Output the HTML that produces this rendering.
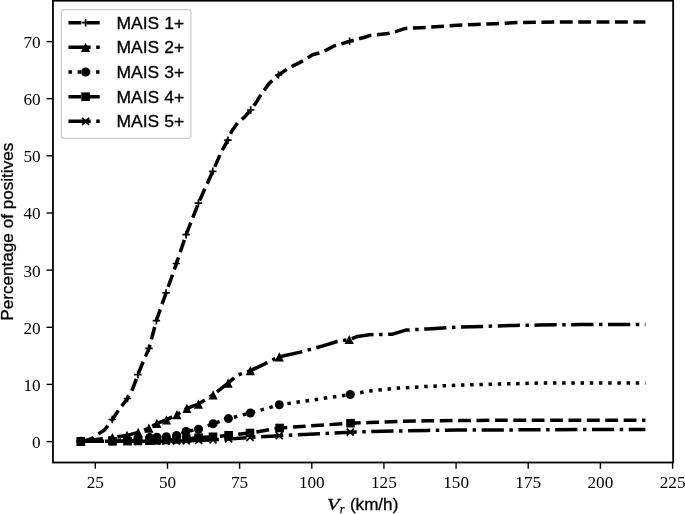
<!DOCTYPE html>
<html><head><meta charset="utf-8"><title>Percentage of positives vs Vr</title>
<style>
html,body{margin:0;padding:0;background:#fff;}
body{width:685px;height:514px;overflow:hidden;}
svg{display:block;}
.tk{font-family:"Liberation Serif","DejaVu Serif",serif;font-size:17.2px;fill:#000;}
.sf{font-family:"Liberation Sans","DejaVu Sans",sans-serif;font-size:17.1px;fill:#000;stroke:#000;stroke-width:0.3px;}
.it{font-family:"Liberation Serif","DejaVu Serif",serif;font-style:italic;}
</style></head><body>
<svg width="685" height="514" viewBox="0 0 685 514">
<rect width="685" height="514" fill="#fff"/>

<path d="M80.8 441.3 L88.0 440.0 L93.4 438.0 L97.4 434.9 L105.0 429.5 L112.3 419.5 L119.8 408.5 L127.5 398.5 L132.5 389.3 L137.9 374.6 L143.5 361.0 L149.0 348.4 L152.7 334.5 L156.4 320.7 L161.2 306.5 L166.1 292.9 L176.4 263.5 L186.1 234.7 L198.4 203.2 L212.8 171.3 L221.1 152.3 L227.9 140.2 L231.8 130.9 L237.7 122.7 L244.5 117.2 L250.7 110.0 L256.1 102.6 L261.4 94.0 L269.0 83.6 L278.5 75.0 L288.0 68.4 L303.1 60.8 L312.6 54.7 L322.1 52.3 L333.5 46.2 L349.6 41.3 L363.9 37.5 L370.5 35.4 L388.0 33.5 L396.2 31.4 L405.5 28.4 L420.7 27.7 L439.4 26.5 L458.1 25.3 L476.8 24.4 L495.5 23.7 L518.8 22.5 L560.0 21.9 L645.4 21.9" fill="none" stroke="#000" stroke-width="3.5" stroke-dasharray="12.84 5.55" stroke-dashoffset="-1" stroke-linejoin="round"/>
<path d="M77.1 441.3H84.5M80.8 437.6V445.0" stroke="#000" stroke-width="1.7" fill="none"/><path d="M108.6 419.5H116.0M112.3 415.8V423.2" stroke="#000" stroke-width="1.7" fill="none"/><path d="M123.8 398.5H131.2M127.5 394.8V402.2" stroke="#000" stroke-width="1.7" fill="none"/><path d="M134.2 374.6H141.6M137.9 370.9V378.3" stroke="#000" stroke-width="1.7" fill="none"/><path d="M145.3 348.4H152.7M149.0 344.7V352.1" stroke="#000" stroke-width="1.7" fill="none"/><path d="M152.7 320.7H160.1M156.4 317.0V324.4" stroke="#000" stroke-width="1.7" fill="none"/><path d="M162.4 292.9H169.8M166.1 289.2V296.6" stroke="#000" stroke-width="1.7" fill="none"/><path d="M172.7 263.5H180.1M176.4 259.8V267.2" stroke="#000" stroke-width="1.7" fill="none"/><path d="M182.4 234.7H189.8M186.1 231.0V238.4" stroke="#000" stroke-width="1.7" fill="none"/><path d="M194.7 203.2H202.1M198.4 199.5V206.9" stroke="#000" stroke-width="1.7" fill="none"/><path d="M209.1 171.3H216.5M212.8 167.6V175.0" stroke="#000" stroke-width="1.7" fill="none"/><path d="M224.2 140.2H231.6M227.9 136.5V143.9" stroke="#000" stroke-width="1.7" fill="none"/><path d="M247.0 110.0H254.4M250.7 106.3V113.7" stroke="#000" stroke-width="1.7" fill="none"/><path d="M274.8 75.0H282.2M278.5 71.3V78.7" stroke="#000" stroke-width="1.7" fill="none"/><path d="M345.9 41.3H353.3M349.6 37.6V45.0" stroke="#000" stroke-width="1.7" fill="none"/>
<path d="M80.8 441.3 L112.4 437.5 L127.0 435.4 L138.2 432.4 L148.9 428.1 L156.9 423.4 L166.4 419.9 L176.9 414.6 L186.9 408.4 L198.4 404.1 L213.1 394.9 L228.1 383.1 L237.3 375.2 L250.4 370.7 L279.3 356.8 L300.4 352.1 L321.4 346.3 L337.1 341.5 L349.2 339.5 L357.5 336.5 L369.2 334.7 L392.6 334.2 L405.7 330.1 L427.6 328.9 L456.8 327.2 L486.0 326.3 L515.2 325.4 L538.5 325.1 L580.0 324.5 L645.4 324.5" fill="none" stroke="#000" stroke-width="3.5" stroke-dasharray="22.21 5.55 3.47 5.55" stroke-dashoffset="0" stroke-linejoin="round"/>
<path d="M80.8 436.7L76.2 445.9H85.4Z" fill="#000"/><path d="M112.4 432.9L107.8 442.1H117.0Z" fill="#000"/><path d="M127.0 430.8L122.4 440.0H131.6Z" fill="#000"/><path d="M138.2 427.8L133.6 437.0H142.8Z" fill="#000"/><path d="M148.9 423.5L144.3 432.7H153.5Z" fill="#000"/><path d="M156.9 418.8L152.3 428.0H161.5Z" fill="#000"/><path d="M166.4 415.3L161.8 424.5H171.0Z" fill="#000"/><path d="M176.9 410.0L172.3 419.2H181.5Z" fill="#000"/><path d="M186.9 403.8L182.3 413.0H191.5Z" fill="#000"/><path d="M198.4 399.5L193.8 408.7H203.0Z" fill="#000"/><path d="M213.1 390.3L208.5 399.5H217.7Z" fill="#000"/><path d="M228.1 378.5L223.5 387.7H232.7Z" fill="#000"/><path d="M250.4 366.1L245.8 375.3H255.0Z" fill="#000"/><path d="M279.3 352.2L274.7 361.4H283.9Z" fill="#000"/><path d="M349.2 334.9L344.6 344.1H353.8Z" fill="#000"/>
<path d="M80.8 441.3 L112.5 440.8 L127.5 440.0 L138.0 438.8 L149.6 437.6 L156.9 437.2 L166.4 436.8 L176.6 435.5 L186.1 431.5 L198.5 429.2 L213.1 423.8 L228.4 418.6 L250.4 413.0 L279.3 404.8 L350.2 394.5 L369.2 391.0 L398.4 388.1 L427.6 386.4 L456.8 385.2 L486.0 384.3 L515.2 383.7 L538.5 383.1 L580.0 383.0 L645.4 383.0" fill="none" stroke="#000" stroke-width="3.5" stroke-dasharray="3.47 5.73" stroke-dashoffset="0" stroke-linejoin="round"/>
<circle cx="80.8" cy="441.3" r="4.5" fill="#000"/><circle cx="112.5" cy="440.8" r="4.5" fill="#000"/><circle cx="127.5" cy="440.0" r="4.5" fill="#000"/><circle cx="138.0" cy="438.8" r="4.5" fill="#000"/><circle cx="149.6" cy="437.6" r="4.5" fill="#000"/><circle cx="156.9" cy="437.2" r="4.5" fill="#000"/><circle cx="166.4" cy="436.8" r="4.5" fill="#000"/><circle cx="176.6" cy="435.5" r="4.5" fill="#000"/><circle cx="186.1" cy="431.5" r="4.5" fill="#000"/><circle cx="198.5" cy="429.2" r="4.5" fill="#000"/><circle cx="213.1" cy="423.8" r="4.5" fill="#000"/><circle cx="228.4" cy="418.6" r="4.5" fill="#000"/><circle cx="250.4" cy="413.0" r="4.5" fill="#000"/><circle cx="279.3" cy="404.8" r="4.5" fill="#000"/><circle cx="350.2" cy="394.5" r="4.5" fill="#000"/>
<path d="M80.8 441.3 L112.5 441.3 L127.5 441.1 L138.0 440.9 L149.2 440.7 L156.6 440.4 L166.0 440.0 L176.4 439.4 L186.3 438.7 L198.6 437.7 L213.0 436.8 L228.6 435.3 L250.0 433.0 L279.6 428.0 L350.5 423.2 L369.2 422.6 L398.4 421.4 L427.6 420.8 L500.0 420.2 L645.4 420.2" fill="none" stroke="#000" stroke-width="3.5" stroke-dasharray="12.84 5.55" stroke-dashoffset="7.9" stroke-linejoin="round"/>
<rect x="76.5" y="437.0" width="8.6" height="8.6" fill="#000"/><rect x="108.2" y="437.0" width="8.6" height="8.6" fill="#000"/><rect x="123.2" y="436.8" width="8.6" height="8.6" fill="#000"/><rect x="133.7" y="436.6" width="8.6" height="8.6" fill="#000"/><rect x="144.9" y="436.4" width="8.6" height="8.6" fill="#000"/><rect x="152.3" y="436.1" width="8.6" height="8.6" fill="#000"/><rect x="161.7" y="435.7" width="8.6" height="8.6" fill="#000"/><rect x="172.1" y="435.1" width="8.6" height="8.6" fill="#000"/><rect x="182.0" y="434.4" width="8.6" height="8.6" fill="#000"/><rect x="194.3" y="433.4" width="8.6" height="8.6" fill="#000"/><rect x="208.7" y="432.5" width="8.6" height="8.6" fill="#000"/><rect x="224.3" y="431.0" width="8.6" height="8.6" fill="#000"/><rect x="245.7" y="428.7" width="8.6" height="8.6" fill="#000"/><rect x="275.3" y="423.7" width="8.6" height="8.6" fill="#000"/><rect x="346.2" y="418.9" width="8.6" height="8.6" fill="#000"/>
<path d="M80.8 441.3 L112.5 441.3 L127.5 441.3 L138.0 441.3 L149.2 441.2 L156.6 441.2 L166.0 441.1 L176.4 441.0 L186.3 440.8 L198.6 440.4 L213.0 439.8 L228.6 438.9 L250.0 437.4 L279.2 435.7 L350.3 432.2 L369.2 431.6 L398.4 431.0 L427.6 430.4 L456.8 430.1 L538.5 429.8 L600.0 429.5 L645.4 429.5" fill="none" stroke="#000" stroke-width="3.5" stroke-dasharray="22.21 5.55 3.47 5.55" stroke-dashoffset="3.5" stroke-linejoin="round"/>
<path d="M77.3 437.8L84.3 444.8M77.3 444.8L84.3 437.8" stroke="#000" stroke-width="1.8" fill="none"/><path d="M109.0 437.8L116.0 444.8M109.0 444.8L116.0 437.8" stroke="#000" stroke-width="1.8" fill="none"/><path d="M124.0 437.8L131.0 444.8M124.0 444.8L131.0 437.8" stroke="#000" stroke-width="1.8" fill="none"/><path d="M134.5 437.8L141.5 444.8M134.5 444.8L141.5 437.8" stroke="#000" stroke-width="1.8" fill="none"/><path d="M145.7 437.7L152.7 444.7M145.7 444.7L152.7 437.7" stroke="#000" stroke-width="1.8" fill="none"/><path d="M153.1 437.7L160.1 444.7M153.1 444.7L160.1 437.7" stroke="#000" stroke-width="1.8" fill="none"/><path d="M162.5 437.6L169.5 444.6M162.5 444.6L169.5 437.6" stroke="#000" stroke-width="1.8" fill="none"/><path d="M172.9 437.5L179.9 444.5M172.9 444.5L179.9 437.5" stroke="#000" stroke-width="1.8" fill="none"/><path d="M182.8 437.3L189.8 444.3M182.8 444.3L189.8 437.3" stroke="#000" stroke-width="1.8" fill="none"/><path d="M195.1 436.9L202.1 443.9M195.1 443.9L202.1 436.9" stroke="#000" stroke-width="1.8" fill="none"/><path d="M209.5 436.3L216.5 443.3M209.5 443.3L216.5 436.3" stroke="#000" stroke-width="1.8" fill="none"/><path d="M225.1 435.4L232.1 442.4M225.1 442.4L232.1 435.4" stroke="#000" stroke-width="1.8" fill="none"/><path d="M246.5 433.9L253.5 440.9M246.5 440.9L253.5 433.9" stroke="#000" stroke-width="1.8" fill="none"/><path d="M275.7 432.2L282.7 439.2M275.7 439.2L282.7 432.2" stroke="#000" stroke-width="1.8" fill="none"/><path d="M346.8 428.7L353.8 435.7M346.8 435.7L353.8 428.7" stroke="#000" stroke-width="1.8" fill="none"/>
<rect x="52.95" y="0.7" width="620.2" height="461.8" fill="none" stroke="#000" stroke-width="1.8"/>
<path d="M95.3 462.45V468.8" stroke="#000" stroke-width="1.4"/>
<text class="tk" x="95.3" y="487.7" text-anchor="middle">25</text>
<path d="M167.5 462.45V468.8" stroke="#000" stroke-width="1.4"/>
<text class="tk" x="167.5" y="487.7" text-anchor="middle">50</text>
<path d="M239.6 462.45V468.8" stroke="#000" stroke-width="1.4"/>
<text class="tk" x="239.6" y="487.7" text-anchor="middle">75</text>
<path d="M311.8 462.45V468.8" stroke="#000" stroke-width="1.4"/>
<text class="tk" x="311.8" y="487.7" text-anchor="middle">100</text>
<path d="M383.9 462.45V468.8" stroke="#000" stroke-width="1.4"/>
<text class="tk" x="383.9" y="487.7" text-anchor="middle">125</text>
<path d="M456.1 462.45V468.8" stroke="#000" stroke-width="1.4"/>
<text class="tk" x="456.1" y="487.7" text-anchor="middle">150</text>
<path d="M528.2 462.45V468.8" stroke="#000" stroke-width="1.4"/>
<text class="tk" x="528.2" y="487.7" text-anchor="middle">175</text>
<path d="M600.4 462.45V468.8" stroke="#000" stroke-width="1.4"/>
<text class="tk" x="600.4" y="487.7" text-anchor="middle">200</text>
<path d="M672.6 462.45V468.8" stroke="#000" stroke-width="1.4"/>
<text class="tk" x="672.6" y="487.7" text-anchor="middle">225</text>
<path d="M52.95 441.6H46.5" stroke="#000" stroke-width="1.4"/>
<text class="tk" x="40.6" y="448.0" text-anchor="end">0</text>
<path d="M52.95 384.4H46.5" stroke="#000" stroke-width="1.4"/>
<text class="tk" x="40.6" y="390.8" text-anchor="end">10</text>
<path d="M52.95 327.3H46.5" stroke="#000" stroke-width="1.4"/>
<text class="tk" x="40.6" y="333.7" text-anchor="end">20</text>
<path d="M52.95 270.1H46.5" stroke="#000" stroke-width="1.4"/>
<text class="tk" x="40.6" y="276.5" text-anchor="end">30</text>
<path d="M52.95 213.0H46.5" stroke="#000" stroke-width="1.4"/>
<text class="tk" x="40.6" y="219.4" text-anchor="end">40</text>
<path d="M52.95 155.8H46.5" stroke="#000" stroke-width="1.4"/>
<text class="tk" x="40.6" y="162.2" text-anchor="end">50</text>
<path d="M52.95 98.7H46.5" stroke="#000" stroke-width="1.4"/>
<text class="tk" x="40.6" y="105.1" text-anchor="end">60</text>
<path d="M52.95 41.6H46.5" stroke="#000" stroke-width="1.4"/>
<text class="tk" x="40.6" y="48.0" text-anchor="end">70</text>
<text class="sf" transform="translate(13.2 231.7) rotate(-90)" text-anchor="middle" style="font-size:17.4px" textLength="178" lengthAdjust="spacingAndGlyphs">Percentage of positives</text>
<text class="it" x="327.0" y="510.3" style="font-size:17.4px;stroke:#000;stroke-width:0.3px" textLength="12.4" lengthAdjust="spacingAndGlyphs">V</text><text class="it" x="339.8" y="513.4" style="font-size:12.2px;stroke:#000;stroke-width:0.25px">r</text><text class="sf" x="349.9" y="510.2">(km/h)</text>
<rect x="61.4" y="9.6" width="129.6" height="128.8" rx="2.8" ry="2.8" fill="#fff" fill-opacity="0.8" stroke="#ccc" stroke-width="1.2"/>
<path d="M68.45 22.7H102.7" stroke="#000" stroke-width="3.5" stroke-dasharray="12.84 5.55" fill="none"/>
<path d="M81.9 22.7H89.3M85.6 19.0V26.4" stroke="#000" stroke-width="1.7" fill="none"/>
<text class="sf" x="116.5" y="28.60" textLength="67.6" lengthAdjust="spacingAndGlyphs">MAIS 1+</text>
<path d="M68.45 47.35H102.7" stroke="#000" stroke-width="3.5" stroke-dasharray="22.21 5.55 3.47 5.55" fill="none"/>
<path d="M85.6 42.8L81.0 52.0H90.2Z" fill="#000"/>
<text class="sf" x="116.5" y="53.25" textLength="67.6" lengthAdjust="spacingAndGlyphs">MAIS 2+</text>
<path d="M68.45 72.0H102.7" stroke="#000" stroke-width="3.5" stroke-dasharray="3.47 5.73" fill="none"/>
<circle cx="85.6" cy="72.0" r="4.5" fill="#000"/>
<text class="sf" x="116.5" y="77.90" textLength="67.6" lengthAdjust="spacingAndGlyphs">MAIS 3+</text>
<path d="M68.45 96.65H102.7" stroke="#000" stroke-width="3.5" stroke-dasharray="12.84 5.55" fill="none"/>
<rect x="81.3" y="92.4" width="8.6" height="8.6" fill="#000"/>
<text class="sf" x="116.5" y="102.55" textLength="67.6" lengthAdjust="spacingAndGlyphs">MAIS 4+</text>
<path d="M68.45 121.3H102.7" stroke="#000" stroke-width="3.5" stroke-dasharray="22.21 5.55 3.47 5.55" fill="none"/>
<path d="M82.1 117.8L89.1 124.8M82.1 124.8L89.1 117.8" stroke="#000" stroke-width="1.8" fill="none"/>
<text class="sf" x="116.5" y="127.20" textLength="67.6" lengthAdjust="spacingAndGlyphs">MAIS 5+</text>
</svg></body></html>
